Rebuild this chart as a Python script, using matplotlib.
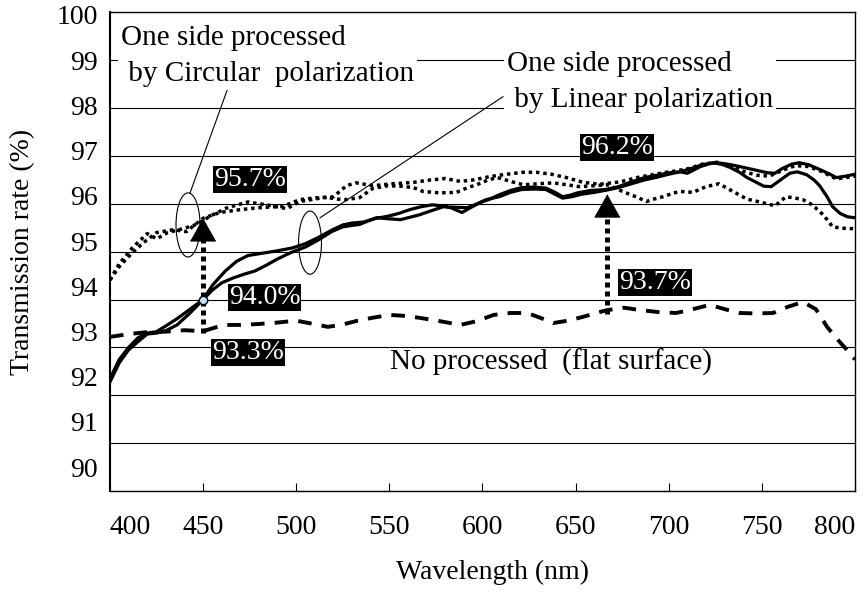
import numpy as np
import matplotlib
matplotlib.use("Agg")
import matplotlib.pyplot as plt
from matplotlib.patches import Ellipse
from matplotlib.transforms import blended_transform_factory

plt.rcParams['font.family'] = ['Liberation Serif', 'DejaVu Serif']
plt.rcParams['font.size'] = 20

# no processing (flat surface)
wl_flat = [400, 410, 420, 430, 440, 450, 461, 470, 480, 490, 500, 508, 517, 525,
           533, 541, 550, 558, 566, 577, 588, 597, 606, 615, 624, 631, 638, 646,
           654, 661, 667, 676, 683, 694, 704, 713, 722, 730, 738, 747, 756, 764,
           772, 779, 785, 791, 797, 800]
tr_flat = [93.22, 93.28, 93.32, 93.33, 93.36, 93.34, 93.47, 93.47, 93.49, 93.52,
           93.56, 93.50, 93.43, 93.48, 93.56, 93.62, 93.68, 93.66, 93.62, 93.55,
           93.47, 93.55, 93.68, 93.72, 93.72, 93.62, 93.51, 93.56, 93.64, 93.72,
           93.78, 93.83, 93.79, 93.74, 93.72, 93.80, 93.89, 93.80, 93.72, 93.71,
           93.72, 93.85, 93.95, 93.80, 93.43, 93.15, 92.89, 92.75]

# one side processed, circular polarization (two samples)
wl_circ_a = [400, 405, 412, 420, 425, 431, 438, 445, 450, 454, 463, 474, 484, 495,
             502, 513, 520, 527, 532, 541, 552, 563, 572, 580, 588, 595, 604, 613,
             622, 629, 637, 645, 654, 663, 674, 683, 690, 697, 704, 711, 718, 726,
             733, 740, 747, 754, 761, 768, 775, 782, 790, 800]
tr_circ_a = [94.41, 94.75, 95.08, 95.38, 95.27, 95.40, 95.47, 95.55, 95.65, 95.75,
             95.92, 96.04, 95.98, 95.90, 96.05, 96.12, 96.15, 96.38, 96.44, 96.38,
             96.42, 96.45, 96.50, 96.53, 96.47, 96.50, 96.57, 96.62, 96.66, 96.66,
             96.62, 96.55, 96.45, 96.41, 96.46, 96.55, 96.60, 96.65, 96.69, 96.74,
             96.83, 96.87, 96.80, 96.68, 96.60, 96.58, 96.70, 96.80, 96.78, 96.68,
             96.52, 96.58]

wl_circ_b = [400, 405, 412, 418, 425, 434, 441, 450, 459, 470, 480, 493, 502, 509,
             516, 522, 527, 534, 541, 549, 556, 563, 568, 577, 586, 592, 597, 603,
             608, 616, 622, 630, 638, 645, 652, 660, 667, 674, 679, 683, 688, 692,
             697, 702, 706, 713, 720, 727, 734, 742, 750, 757, 763, 768, 772, 777,
             783, 788, 794, 800]
tr_circ_b = [94.41, 94.69, 94.98, 95.19, 95.40, 95.46, 95.42, 95.70, 95.82, 95.88,
             95.92, 95.95, 96.09, 96.12, 96.14, 96.10, 96.09, 96.13, 96.32, 96.38,
             96.37, 96.34, 96.26, 96.23, 96.24, 96.34, 96.40, 96.50, 96.55, 96.46,
             96.40, 96.42, 96.44, 96.40, 96.36, 96.38, 96.40, 96.28, 96.20, 96.14,
             96.05, 96.10, 96.15, 96.22, 96.26, 96.24, 96.36, 96.42, 96.27, 96.10,
             96.03, 95.96, 96.15, 96.12, 96.09, 95.98, 95.77, 95.52, 95.49, 95.48]

# one side processed, linear polarization (two samples)
wl_lin_a = [400, 405, 410, 415, 420, 425, 430, 436, 443, 450, 455, 462, 468, 474,
            482, 490, 498, 505, 512, 519, 525, 530, 536, 543, 549, 555, 561, 567,
            573, 578, 583, 589, 594, 599, 604, 609, 615, 621, 627, 634, 639, 643,
            647, 651, 658, 666, 673, 680, 687, 694, 700, 706, 710, 717, 722, 726,
            733, 738, 745, 753, 757, 761, 766, 770, 775, 781, 786, 790, 795, 800]
tr_lin_a = [92.35, 92.75, 93.00, 93.20, 93.30, 93.33, 93.45, 93.60, 93.80, 94.00,
            94.30, 94.60, 94.80, 94.92, 94.97, 95.02, 95.08, 95.17, 95.30, 95.45,
            95.56, 95.60, 95.62, 95.70, 95.74, 95.80, 95.88, 95.94, 95.98, 95.96,
            95.92, 95.82, 95.93, 96.03, 96.10, 96.19, 96.28, 96.34, 96.35, 96.33,
            96.24, 96.15, 96.18, 96.23, 96.28, 96.30, 96.36, 96.46, 96.55, 96.60,
            96.65, 96.67, 96.64, 96.78, 96.84, 96.86, 96.82, 96.78, 96.72, 96.65,
            96.64, 96.74, 96.83, 96.86, 96.82, 96.72, 96.63, 96.55, 96.58, 96.62]

wl_lin_b = [400, 405, 410, 415, 420, 425, 430, 436, 443, 450, 455, 460, 466, 472,
            478, 484, 490, 497, 505, 512, 519, 525, 530, 534, 539, 543, 549, 556,
            561, 566, 572, 579, 585, 592, 597, 602, 609, 615, 621, 628, 634, 639,
            643, 648, 653, 660, 667, 673, 680, 687, 694, 700, 706, 713, 718, 724,
            729, 733, 738, 742, 747, 751, 755, 760, 765, 769, 774, 778, 781, 785,
            788, 792, 796, 800]
tr_lin_b = [92.28, 92.68, 92.95, 93.12, 93.28, 93.30, 93.35, 93.47, 93.72, 94.00,
            94.20, 94.35, 94.45, 94.53, 94.60, 94.72, 94.85, 94.98, 95.10, 95.25,
            95.42, 95.52, 95.55, 95.57, 95.65, 95.71, 95.69, 95.67, 95.72, 95.77,
            95.85, 95.94, 95.93, 95.92, 96.00, 96.09, 96.15, 96.24, 96.30, 96.31,
            96.30, 96.20, 96.12, 96.15, 96.20, 96.24, 96.29, 96.34, 96.42, 96.50,
            96.56, 96.62, 96.67, 96.75, 96.82, 96.86, 96.82, 96.76, 96.66, 96.55,
            96.45, 96.37, 96.36, 96.50, 96.64, 96.67, 96.61, 96.50, 96.38, 96.15,
            95.94, 95.80, 95.73, 95.71]

# arrows: flat surface -> processed
arrow_wl = [450, 667]
arrow_from = [93.3, 93.7]
arrow_to = [95.7, 96.2]
point_wl = 450
point_tr = 94.0

x_ticks = [400, 450, 500, 550, 600, 650, 700, 750, 800]
y_ticks = [90, 91, 92, 93, 94, 95, 96, 97, 98, 99, 100]

fig = plt.figure(figsize=(8.66, 5.93), dpi=100)
ax = fig.add_axes([0.127, 0.172, 0.8603, 0.807])

ax.plot(wl_flat, tr_flat, color='black', lw=2.8, linestyle=(0, (3.5, 2.6)), zorder=3)
ax.plot(wl_circ_a, tr_circ_a, color='black', lw=2.5, linestyle=(0, (1, 1.1)), zorder=3)
ax.plot(wl_circ_b, tr_circ_b, color='black', lw=2.5, linestyle=(0, (1, 1.1)), zorder=3)
ax.plot(wl_lin_a, tr_lin_a, color='black', lw=2.3, zorder=3)
ax.plot(wl_lin_b, tr_lin_b, color='black', lw=2.3, zorder=3)

# dotted arrows with filled triangular heads
head = 0.46
for x, y0, y1 in zip(arrow_wl, arrow_from, arrow_to):
    ax.plot([x, x], [y0, y1 - head], color='black', lw=3.6,
            linestyle=(0, (1, 0.8)), zorder=4)
    ax.annotate('', xy=(x, y1), xytext=(x, y1 - head),
                arrowprops=dict(arrowstyle='-|>,head_length=0.8,head_width=0.45',
                                color='black', lw=0.5, shrinkA=0, shrinkB=0,
                                mutation_scale=20), zorder=4)

ax.plot(point_wl, point_tr, 'o', ms=6, mfc='#bfe9f0', mec='black', mew=1, zorder=5)

ax.set_xlim(400, 800)
ax.set_ylim(90, 100)
ax.set_xticks(x_ticks)
ax.set_xticklabels([str(t) for t in x_ticks])
xl = ax.get_xticklabels()
xl[0].set_horizontalalignment('left')
xl[-1].set_horizontalalignment('right')
ax.tick_params(axis='x', direction='in', length=6, width=0.8, pad=17.5)
ax.set_yticks(y_ticks)
ax.set_yticklabels([])
ax.tick_params(axis='y', length=0)
ax.grid(axis='y', color='black', lw=0.8)
ax.set_axisbelow(True)
for s in ax.spines.values():
    s.set_linewidth(1.0)
ax.spines['left'].set_linewidth(1.5)

# y tick labels sit slightly compressed towards the top
ytr = blended_transform_factory(ax.transAxes, ax.transData)
for v in y_ticks:
    ax.text(-0.016, 100 - 0.115 - (100 - v) * 0.945, str(v), transform=ytr,
            ha='right', va='center')

fig.text(492 / 866, 1 - 572 / 593, 'Wavelength (nm)', ha='center', va='center')
fig.text(23 / 866, 1 - 252 / 593, 'Transmission rate (%)', rotation=90,
         ha='center', va='center')

# series labels with leader lines and ellipses
ax.text(406, 99.09, 'One side processed\n by Circular  polarization', ha='left',
        va='center', linespacing=1.52, fontsize=21, zorder=5,
        bbox=dict(boxstyle='square,pad=0.1', fc='white', ec='none'))
ax.plot([463.4, 443], [98.43, 96.23], color='black', lw=0.8, zorder=4)
ax.add_patch(Ellipse((441.9, 95.56), 12.9, 1.34, fc='none', ec='black', lw=0.8, zorder=4))

ax.text(613, 98.55, 'One side processed\n by Linear polarization', ha='left',
        va='center', linespacing=1.52, fontsize=21, zorder=5,
        bbox=dict(boxstyle='square,pad=0.1', fc='white', ec='none'))
ax.plot([611, 512.8], [98.24, 95.71], color='black', lw=0.8, zorder=4)
ax.add_patch(Ellipse((507.4, 95.19), 12.3, 1.32, fc='none', ec='black', lw=0.8, zorder=4))

ax.text(637, 92.68, 'No processed  (flat surface)', ha='center', va='center',
        fontsize=21, zorder=5)

# value boxes
vbox = dict(boxstyle='square,pad=0.04', fc='black', ec='none')
for x, y, s in [(475, 96.51, '95.7%'), (483, 94.04, '94.0%'), (474, 92.89, '93.3%'),
                (672, 97.18, '96.2%'), (692.5, 94.35, '93.7%')]:
    ax.text(x, y, s, color='white', ha='center', va='center', bbox=vbox, zorder=6)

fig.savefig('out.png', dpi=100)
